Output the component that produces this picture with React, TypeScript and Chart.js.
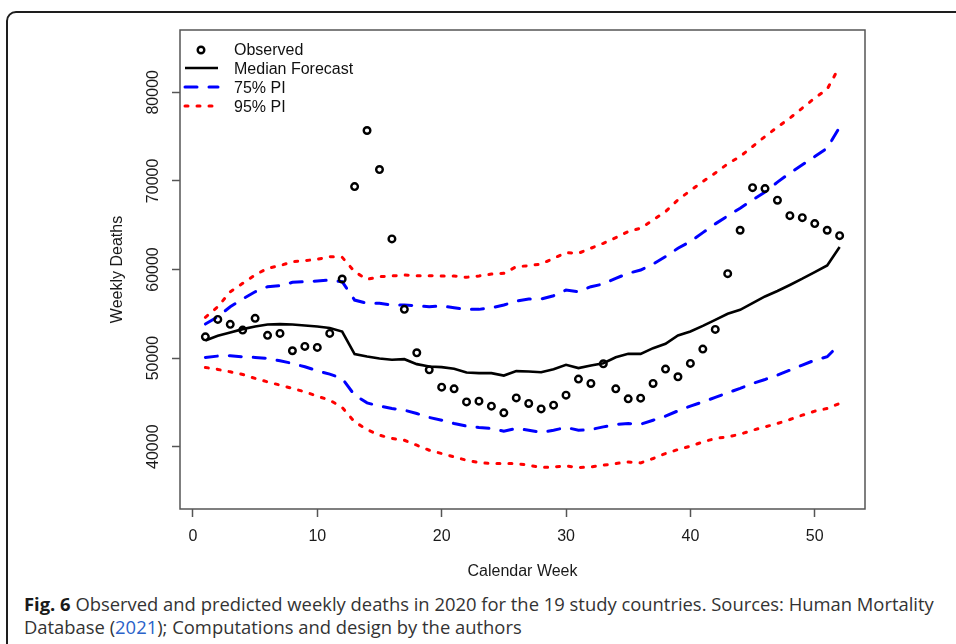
import React, { useEffect, useRef } from "react";
import { Chart, registerables } from "chart.js";

Chart.register(...registerables);

const weeks = [1, 2, 3, 4, 5, 6, 7, 8, 9, 10, 11, 12, 13, 14, 15, 16, 17, 18, 19, 20, 21, 22, 23, 24, 25, 26, 27, 28, 29, 30, 31, 32, 33, 34, 35, 36, 37, 38, 39, 40, 41, 42, 43, 44, 45, 46, 47, 48, 49, 50, 51, 52];

const observed = [52400, 54370, 53810, 53160, 54490, 52570, 52790, 50830, 51320, 51210, 52790, 58930, 69360, 75690, 71280, 63450, 55500, 50600, 48680, 46720, 46530, 45060, 45140, 44580, 43820, 45510, 44880, 44270, 44690, 45820, 47630, 47140, 49360, 46530, 45400, 45480, 47140, 48760, 47890, 49400, 51020, 53240, 59530, 64430, 69240, 69130, 67820, 66080, 65850, 65180, 64430, 63820];

const medianForecast = [51990, 52520, 52890, 53270, 53570, 53790, 53840, 53790, 53680, 53570, 53390, 53000, 50450, 50180, 49950, 49810, 49880, 49320, 49050, 48980, 48790, 48370, 48300, 48300, 48030, 48530, 48480, 48410, 48750, 49240, 48870, 49160, 49430, 50100, 50480, 50480, 51120, 51610, 52550, 53000, 53640, 54320, 55000, 55450, 56210, 56960, 57570, 58250, 58960, 59710, 60460, 62540];

const upper75 = [53840, 54670, 55800, 56670, 57490, 58060, 58170, 58550, 58620, 58700, 58810, 58620, 56550, 56180, 56180, 55990, 55990, 55910, 55800, 55880, 55680, 55500, 55500, 55680, 55990, 56440, 56670, 56670, 57040, 57680, 57490, 58060, 58360, 59010, 59570, 59940, 60620, 61450, 62400, 63150, 64160, 65150, 66050, 66920, 67860, 68730, 69860, 70880, 71810, 72750, 73700, 76070];

const lower75 = [50080, 50230, 50260, 50150, 50080, 49970, 49700, 49400, 49020, 48570, 48190, 47710, 45820, 44950, 44580, 44320, 44120, 43750, 43300, 42990, 42620, 42320, 42170, 42060, 41750, 42060, 41860, 41600, 41860, 42170, 41860, 41940, 42240, 42510, 42620, 42540, 42990, 43450, 44050, 44580, 45060, 45560, 46080, 46580, 47140, 47590, 48080, 48640, 49210, 49770, 50150, 51580];

const upper95 = [54600, 55800, 57490, 58440, 59380, 60140, 60430, 60880, 61000, 61150, 61450, 61380, 59750, 58890, 59190, 59270, 59380, 59300, 59300, 59270, 59270, 59120, 59270, 59490, 59570, 60320, 60430, 60620, 61270, 61900, 61830, 62400, 62960, 63590, 64280, 64660, 65590, 66530, 67860, 68910, 69930, 70880, 71930, 72750, 73880, 75010, 76070, 77090, 78220, 79350, 80360, 82920];

const lower95 = [48950, 48720, 48450, 48160, 47710, 47320, 46950, 46580, 46190, 45710, 45250, 44430, 42800, 41940, 41300, 40930, 40730, 40170, 39600, 39230, 38850, 38470, 38210, 38100, 38100, 38100, 37910, 37650, 37720, 37830, 37650, 37720, 37910, 38100, 38280, 38170, 38670, 39230, 39680, 40060, 40540, 40930, 41110, 41410, 41860, 42240, 42620, 43070, 43560, 44010, 44320, 44880];

const xTicks = [0, 10, 20, 30, 40, 50];
const yTicks = [40000, 50000, 60000, 70000, 80000];

const seriesLabels = ["Observed", "Median Forecast", "75% PI", "95% PI"];

const FONT = "'Liberation Sans', Arial, sans-serif";

const toPoints = (vals: number[]) => weeks.map((w, i) => ({ x: w, y: vals[i] }));

const boxPlugin = {
  id: "rbox",
  afterDraw(chart: any) {
    const { ctx, chartArea } = chart;
    ctx.save();
    ctx.strokeStyle = "#555";
    ctx.lineWidth = 1.5;
    ctx.strokeRect(chartArea.left, chartArea.top, chartArea.right - chartArea.left, chartArea.bottom - chartArea.top);
    ctx.restore();
  },
};

const legendPlugin = {
  id: "rlegend",
  afterDraw(chart: any) {
    const { ctx, chartArea } = chart;
    const entries = chart.data.datasets.filter((d: any) => d.legendRow !== undefined);
    ctx.save();
    ctx.font = "16px " + FONT;
    ctx.textBaseline = "middle";
    ctx.textAlign = "left";
    entries.forEach((d: any) => {
      const y = chartArea.top + 20 + d.legendRow * 19;
      if (d.showLine === false) {
        ctx.beginPath();
        ctx.setLineDash([]);
        ctx.lineWidth = d.pointBorderWidth;
        ctx.strokeStyle = d.pointBorderColor;
        ctx.arc(chartArea.left + 21, y, d.pointRadius, 0, Math.PI * 2);
        ctx.stroke();
      } else {
        ctx.beginPath();
        ctx.setLineDash(d.borderDash || []);
        ctx.lineCap = d.borderCapStyle || "butt";
        ctx.lineWidth = d.borderWidth;
        ctx.strokeStyle = d.borderColor;
        ctx.moveTo(chartArea.left + 5, y - 1);
        ctx.lineTo(chartArea.left + 38, y - 1);
        ctx.stroke();
      }
      ctx.setLineDash([]);
      ctx.fillStyle = "#111";
      ctx.fillText(d.label, chartArea.left + 54, y + 1);
    });
    ctx.restore();
  },
};

export default function App() {
  const ref = useRef<HTMLCanvasElement | null>(null);

  useEffect(() => {
    if (!ref.current) return;
    const chart = new Chart(ref.current, {
      type: "line",
      data: {
        datasets: [
          {
            label: seriesLabels[0],
            data: toPoints(observed),
            showLine: false,
            pointRadius: 3.3,
            pointBorderWidth: 2.4,
            pointBorderColor: "#000",
            pointBackgroundColor: "rgba(0,0,0,0)",
            pointHoverRadius: 3.3,
            borderColor: "#000",
            legendRow: 0,
            order: 0,
          } as any,
          {
            label: seriesLabels[1],
            data: toPoints(medianForecast),
            borderColor: "#000",
            borderWidth: 2.6,
            pointRadius: 0,
            tension: 0,
            legendRow: 1,
            order: 1,
          } as any,
          {
            label: seriesLabels[2],
            data: toPoints(upper75),
            borderColor: "#0000ff",
            borderWidth: 3,
            borderDash: [12, 12],
            borderCapStyle: "round",
            pointRadius: 0,
            legendRow: 2,
            order: 2,
          } as any,
          {
            label: seriesLabels[2] + " lower",
            data: toPoints(lower75),
            borderColor: "#0000ff",
            borderWidth: 3,
            borderDash: [12, 12],
            borderCapStyle: "round",
            pointRadius: 0,
            order: 3,
          } as any,
          {
            label: seriesLabels[3],
            data: toPoints(upper95),
            borderColor: "#ff0000",
            borderWidth: 3,
            borderDash: [3, 9],
            borderCapStyle: "round",
            pointRadius: 0,
            legendRow: 3,
            order: 4,
          } as any,
          {
            label: seriesLabels[3] + " lower",
            data: toPoints(lower95),
            borderColor: "#ff0000",
            borderWidth: 3,
            borderDash: [3, 9],
            borderCapStyle: "round",
            pointRadius: 0,
            order: 5,
          } as any,
        ],
      },
      options: {
        animation: false,
        responsive: false,
        maintainAspectRatio: false,
        layout: { padding: { left: 100, top: 30, right: 91, bottom: 9 } },
        plugins: { legend: { display: false }, tooltip: { enabled: false }, title: { display: false } },
        scales: {
          x: {
            type: "linear",
            min: -1.04,
            max: 54.04,
            bounds: "data",
            grid: { drawOnChartArea: false, drawTicks: true, tickLength: 8, color: "#555", tickWidth: 1.5 },
            border: { display: false },
            afterBuildTicks: (s: any) => {
              s.ticks = xTicks.map((v) => ({ value: v }));
            },
            afterFit: (s: any) => {
              s.height = 72;
            },
            ticks: {
              autoSkip: false,
              maxRotation: 0,
              minRotation: 0,
              padding: 10,
              color: "#1a1a1a",
              font: { size: 16, family: FONT },
              callback: (v: any) => String(v),
            },
            title: {
              display: true,
              text: "Calendar Week",
              color: "#1a1a1a",
              font: { size: 16, family: FONT },
              padding: { top: 0, bottom: 0 },
            },
          },
          y: {
            type: "linear",
            min: 32970,
            max: 87030,
            bounds: "data",
            grid: { drawOnChartArea: false, drawTicks: true, tickLength: 8, color: "#555", tickWidth: 1.5 },
            border: { display: false },
            afterBuildTicks: (s: any) => {
              s.ticks = yTicks.map((v) => ({ value: v }));
            },
            afterFit: (s: any) => {
              s.width = 80;
            },
            ticks: {
              autoSkip: false,
              minRotation: 90,
              maxRotation: 90,
              crossAlign: "center",
              padding: -4,
              color: "#1a1a1a",
              font: { size: 16, family: FONT },
              callback: (v: any) => String(v),
            },
            title: {
              display: true,
              text: "Weekly Deaths",
              color: "#1a1a1a",
              font: { size: 16, family: FONT },
              padding: { top: 8, bottom: 0 },
            },
          },
        },
      },
      plugins: [boxPlugin, legendPlugin],
    });
    return () => chart.destroy();
  }, []);

  return (
    <div style={{ position: "absolute", left: 0, top: 0, width: 956, height: 644, overflow: "hidden", background: "#fff" }}>
      <div
        style={{
          position: "absolute",
          left: 6,
          top: 11,
          width: 1100,
          height: 800,
          border: "2px solid #1e1e1e",
          borderRadius: 10,
          boxSizing: "border-box",
        }}
      />
      <canvas ref={ref} width={956} height={590} style={{ position: "absolute", left: 0, top: 0, width: 956, height: 590 }} />
      <div
        style={{
          position: "absolute",
          left: 24,
          top: 593,
          width: 932,
          fontFamily: "'Open Sans', sans-serif",
          fontSize: 18.4,
          lineHeight: "22.5px",
          color: "#333",
          whiteSpace: "nowrap",
        }}
      >
        <div>
          <span style={{ fontWeight: 700, color: "#1a1a1a" }}>Fig. 6</span> Observed and predicted weekly deaths in 2020 for the 19 study countries. Sources: Human Mortality
        </div>
        <div>
          Database (<span style={{ color: "#2a62c9" }}>2021</span>); Computations and design by the authors
        </div>
      </div>
    </div>
  );
}
